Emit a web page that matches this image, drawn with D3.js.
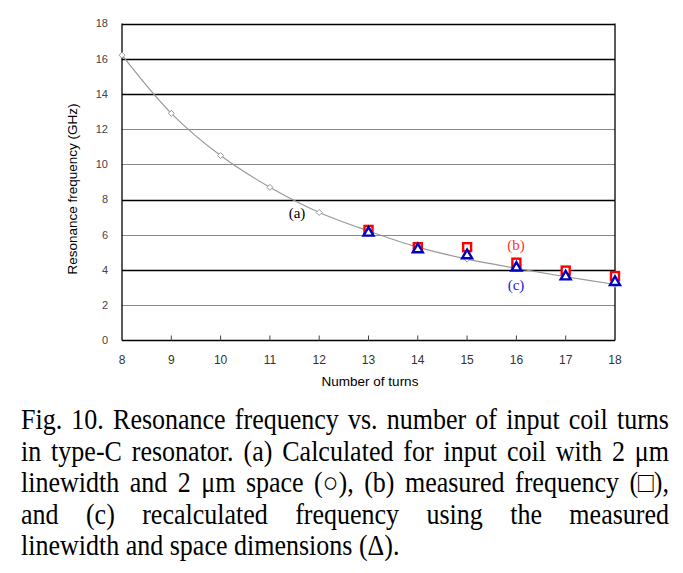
<!DOCTYPE html>
<html><head><meta charset="utf-8">
<script src="https://cdn.jsdelivr.net/npm/d3@7"></script>
<style>
body{margin:0;background:#fff;}
svg{display:block;}
.sans{font-family:"Liberation Sans", Arial, sans-serif;}
.serif{font-family:"Liberation Serif", "Times New Roman", serif;}
</style></head>
<body>
<svg id="c" width="683" height="573"></svg>
<script>
const turns = [8,9,10,11,12,13,14,15,16,17,18];
const calcA = [16.2,12.9,10.5,8.7,7.27,6.22,5.3,4.62,4.1,3.62,3.18];
const measTurns = [13,14,15,16,17,18];
const measB = [6.28,5.3,5.3,4.42,3.97,3.66];
const recalcC = [6.18,5.24,4.9,4.2,3.7,3.38];
const yTicks = [0,2,4,6,8,10,12,14,16,18];
const xTicks = [8,9,10,11,12,13,14,15,16,17,18];
const darkGrid = [4,8,14,16,18];
const captionLines = [
 "Fig. 10. Resonance frequency vs. number of input coil turns",
 "in type-C resonator. (a) Calculated for input coil with 2 \u03bcm",
 "linewidth and 2 \u03bcm space (\u25CB), (b) measured frequency (\u25A1),",
 "and (c) recalculated frequency using the measured",
 "linewidth and space dimensions (\u0394)."
];

const svg = d3.select("#c");
const x = d3.scaleLinear().domain([8,18]).range([122,615]);
const y = d3.scaleLinear().domain([0,18]).range([340.5,23.5]);

svg.append("g").selectAll("line").data(yTicks.filter(d=>d>0)).join("line")
  .attr("x1",x(8)).attr("x2",x(18))
  .attr("y1",d=>Math.round(y(d))+0.5).attr("y2",d=>Math.round(y(d))+0.5)
  .attr("stroke",d=>darkGrid.includes(d)?"#000":"#888")
  .attr("stroke-width",d=>darkGrid.includes(d)?1.3:1);

const fr = svg.append("g").attr("stroke","#000").attr("stroke-width",1.3);
fr.append("line").attr("x1",x(8)).attr("x2",x(8)).attr("y1",y(18)).attr("y2",y(0));
fr.append("line").attr("x1",x(18)).attr("x2",x(18)).attr("y1",y(18)).attr("y2",y(0));
fr.append("line").attr("x1",x(8)).attr("x2",x(18)).attr("y1",y(0)).attr("y2",y(0));

svg.append("g").selectAll("line").data(xTicks.slice(1,-1)).join("line")
  .attr("x1",d=>x(d)).attr("x2",d=>x(d)).attr("y1",y(0)).attr("y2",y(0)-5)
  .attr("stroke","#444").attr("stroke-width",1);

svg.append("g").attr("class","sans").selectAll("text").data(yTicks).join("text")
  .attr("x",108).attr("y",d=>y(d)).attr("dy","0.35em").attr("text-anchor","end")
  .attr("font-size",11).attr("fill","#444")
  .text(d=>d);
svg.append("g").attr("class","sans").selectAll("text").data(xTicks).join("text")
  .attr("x",d=>x(d)).attr("y",360).attr("dy","0.35em").attr("text-anchor","middle")
  .attr("font-size",12).attr("fill","#333")
  .text(d=>d);

svg.append("text").attr("class","sans").attr("x",370).attr("y",381).attr("dy","0.35em").attr("text-anchor","middle")
  .attr("font-size",13.5).attr("fill","#000")
  .text("Number of turns");
svg.append("text").attr("class","sans").attr("transform","translate(72,189) rotate(-90)").attr("dy","0.35em").attr("text-anchor","middle")
  .attr("font-size",13.5).attr("fill","#000")
  .text("Resonance frequency (GHz)");

const line = d3.line().x((d,i)=>x(turns[i])).y(d=>y(d)).curve(d3.curveCatmullRom.alpha(0.5));
svg.append("path").datum(calcA).attr("d",line).attr("fill","none").attr("stroke","#999").attr("stroke-width",1.2);
svg.append("g").selectAll("path").data(calcA).join("path")
  .attr("transform",(d,i)=>`translate(${x(turns[i])},${y(d)})`)
  .attr("d","M0,-3L3,0L0,3L-3,0Z")
  .attr("fill","#fff").attr("stroke","#999").attr("stroke-width",1);

svg.append("g").selectAll("rect").data(measB).join("rect")
  .attr("x",(d,i)=>x(measTurns[i])-4).attr("y",d=>y(d)-4).attr("width",8).attr("height",8)
  .attr("fill","#fff").attr("stroke","#f00").attr("stroke-width",2.4);

svg.append("g").selectAll("path").data(recalcC).join("path")
  .attr("transform",(d,i)=>`translate(${x(measTurns[i])},${y(d)})`)
  .attr("d","M0,-4.5L5,4L-5,4Z")
  .attr("fill","#fff").attr("stroke","#0000c0").attr("stroke-width",2.4);

const lab = (t,xx,yy,c)=>svg.append("text").attr("class","serif").attr("x",xx).attr("y",yy).attr("dy","0.35em").attr("text-anchor","middle")
  .attr("font-size",15).attr("fill",c).text(t);
lab("(a)",297,213,"#000");
lab("(b)",516,245,"#f33");
lab("(c)",516,285,"#22c");

const left = 21, right = 669, base0 = 429, lh = 31.5;
captionLines.forEach((ln,li)=>{
  const yy = base0 + li*lh;
  const g = svg.append("g").attr("class","serif").attr("font-size",26).attr("fill","#000")
    .attr("transform",`translate(0,${yy}) scale(1,1.1)`);
  if (li === captionLines.length-1) {
    g.append("text").attr("x",left).attr("y",0).text(ln);
    return;
  }
  const words = ln.split(" ");
  const nodes = words.map(w=>g.append("text").attr("y",0).text(w));
  const widths = nodes.map(n=>n.node().getComputedTextLength());
  const tot = d3.sum(widths);
  const gap = (right-left-tot)/(words.length-1);
  let cx = left;
  nodes.forEach((n,i)=>{ n.attr("x",cx); cx += widths[i]+gap; });
});
</script>
</body></html>
